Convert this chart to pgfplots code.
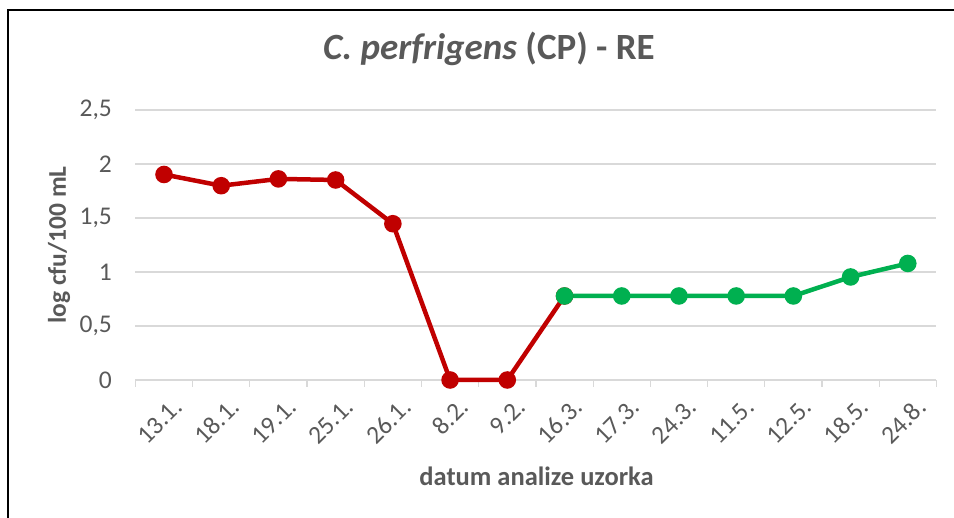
\documentclass[border=0pt]{standalone}
\usepackage{pgfplots}
\pgfplotsset{compat=1.18}
\usepackage{fontspec}
\setmainfont{Carlito}
\definecolor{cpred}{HTML}{C00000}
\definecolor{cpgreen}{HTML}{00B050}
\definecolor{txtgray}{HTML}{595959}
\definecolor{gridgray}{HTML}{D9D9D9}
\begin{document}
\begin{tikzpicture}[x=1pt,y=1pt]
\useasboundingbox (0,0) rectangle (954,518);
\draw[black, line width=2pt] (8,-2) -- (8,508) -- (956,508);
\begin{axis}[
  at={(135.4pt,138pt)}, anchor=south west,
  scale only axis, width=801pt, height=270pt,
  xmin=-0.5, xmax=13.5, ymin=0, ymax=2.5,
  axis lines*=left,
  y axis line style={draw=none},
  x axis line style={draw=gridgray, line width=1.2pt},
  xtick={-0.5,0.5,...,13.5},
  x tick label as interval,
  xticklabels={13.1.,18.1.,19.1.,25.1.,26.1.,8.2.,9.2.,16.3.,17.3.,24.3.,11.5.,12.5.,18.5.,24.8.},
  x tick style={draw=gridgray, line width=1.2pt},
  y tick style={draw=none},
  tick align=outside,
  major tick length=7pt,
  ytick={0,0.5,...,2.5},
  ymajorgrids, grid style={draw=gridgray, line width=1.2pt},
  /pgf/number format/assume math mode=true,
  /pgf/number format/use comma,
  /pgf/number format/fixed,
  tick label style={font=\fontsize{25.5}{28}\selectfont, text=txtgray},
  xticklabel style={rotate=45, anchor=east, xshift=2pt, yshift=-21pt},
  yticklabel style={xshift=-13pt},
  title={\textbf{\textit{C. perfrigens} (CP) - RE}},
  title style={font=\fontsize{37}{42}\selectfont, text=txtgray, at={(axis description cs:0.4414,1.165)}, anchor=base},
  xlabel={\textbf{datum analize uzorka}},
  xlabel style={font=\fontsize{26.5}{30}\selectfont, text=txtgray, at={(axis description cs:0.5008,-0.3926)}, anchor=base},
  ylabel={\textbf{log cfu/100 mL}},
  ylabel style={font=\fontsize{25.5}{30}\selectfont, text=txtgray, at={(axis description cs:-0.0954,0.5)}, anchor=center, rotate=0},
  clip=false,
]
\addplot[cpred, line width=4.5pt, mark=*, mark size=6.5pt, mark options={solid}] coordinates {
  (0,1.903) (1,1.799) (2,1.862) (3,1.852) (4,1.447) (5,0) (6,0) (7,0.778)
};
\addplot[cpgreen, line width=4.5pt, mark=*, mark size=6.5pt, mark options={solid}] coordinates {
  (7,0.778) (8,0.778) (9,0.778) (10,0.778) (11,0.778) (12,0.954) (13,1.079)
};
\end{axis}
\end{tikzpicture}
\end{document}
